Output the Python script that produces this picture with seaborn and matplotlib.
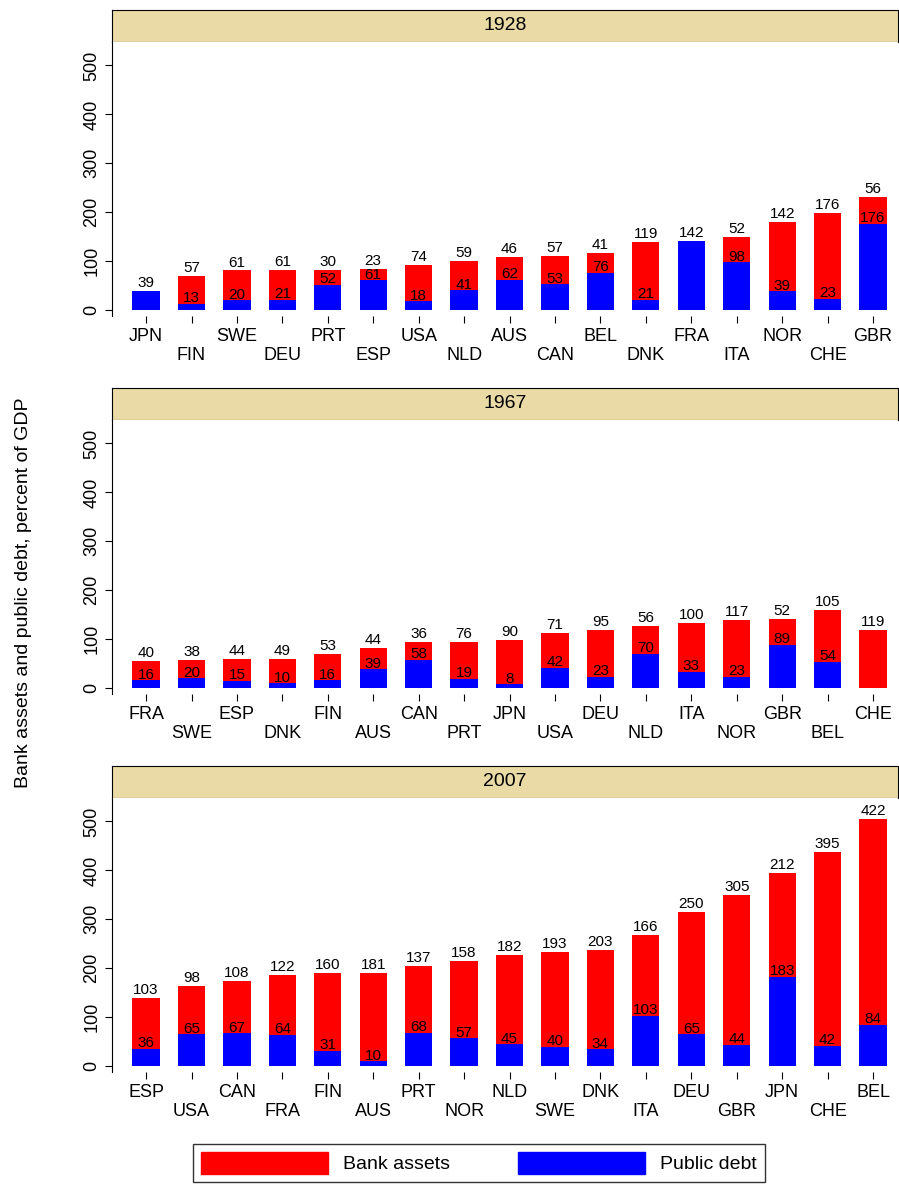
import numpy as np
import pandas as pd
import seaborn as sns
import matplotlib.pyplot as plt
from matplotlib.patches import Patch

years = ['1928', '1967', '2007']

countries_1928 = ['JPN', 'FIN', 'SWE', 'DEU', 'PRT', 'ESP', 'USA', 'NLD', 'AUS', 'CAN', 'BEL', 'DNK', 'FRA', 'ITA', 'NOR', 'CHE', 'GBR']
bank_1928 = [0, 57, 61, 61, 30, 23, 74, 59, 46, 57, 41, 119, 0, 52, 142, 176, 56]
debt_1928 = [39, 13, 20, 21, 52, 61, 18, 41, 62, 53, 76, 21, 142, 98, 39, 23, 176]

countries_1967 = ['FRA', 'SWE', 'ESP', 'DNK', 'FIN', 'AUS', 'CAN', 'PRT', 'JPN', 'USA', 'DEU', 'NLD', 'ITA', 'NOR', 'GBR', 'BEL', 'CHE']
bank_1967 = [40, 38, 44, 49, 53, 44, 36, 76, 90, 71, 95, 56, 100, 117, 52, 105, 119]
debt_1967 = [16, 20, 15, 10, 16, 39, 58, 19, 8, 42, 23, 70, 33, 23, 89, 54, 0]

countries_2007 = ['ESP', 'USA', 'CAN', 'FRA', 'FIN', 'AUS', 'PRT', 'NOR', 'NLD', 'SWE', 'DNK', 'ITA', 'DEU', 'GBR', 'JPN', 'CHE', 'BEL']
bank_2007 = [103, 98, 108, 122, 160, 181, 137, 158, 182, 193, 203, 166, 250, 305, 212, 395, 422]
debt_2007 = [36, 65, 67, 64, 31, 10, 68, 57, 45, 40, 34, 103, 65, 44, 183, 42, 84]

panels = [(countries_1928, bank_1928, debt_1928),
          (countries_1967, bank_1967, debt_1967),
          (countries_2007, bank_2007, debt_2007)]

sns.set_style('white')
plt.rcParams['font.family'] = ['Liberation Sans', 'DejaVu Sans']
plt.rcParams['text.color'] = 'black'
plt.rcParams['xtick.color'] = 'black'
plt.rcParams['ytick.color'] = 'black'
plt.rcParams['axes.labelcolor'] = 'black'

W, H = 899, 1186
fig = plt.figure(figsize=(W / 100, H / 100), dpi=100)
tops = [10, 388, 766]

for (names, bank, debt), year, top in zip(panels, years, tops):
    hdr = fig.add_axes([112 / W, 1 - (top + 32) / H, 786 / W, 32 / H])
    hdr.set_facecolor('#EADBA6')
    hdr.set_xticks([]); hdr.set_yticks([])
    for s in hdr.spines.values():
        s.set_color('black'); s.set_linewidth(0.8)
    hdr.text(0.5, 0.5, year, ha='center', va='center', fontsize=14, transform=hdr.transAxes)

    ax = fig.add_axes([112 / W, 1 - (top + 32 + 274) / H, 786 / W, 274 / H])
    df = pd.DataFrame({'country': names, 'bank': bank, 'debt': debt})
    df['total'] = df['bank'] + df['debt']
    sns.barplot(data=df, x='country', y='total', color='#FF0000', width=0.6,
                saturation=1, ax=ax, order=names, edgecolor='none', linewidth=0)
    sns.barplot(data=df, x='country', y='debt', color='#0000FF', width=0.6,
                saturation=1, ax=ax, order=names, edgecolor='none', linewidth=0)
    for i, r in df.iterrows():
        if r['bank'] > 0:
            ax.text(i, r['total'] + 2, str(r['bank']), ha='center', va='bottom', fontsize=11)
            if r['debt'] > 0:
                ax.text(i, r['debt'] - 3, str(r['debt']), ha='center', va='bottom', fontsize=11)
        else:
            ax.text(i, r['debt'] + 2, str(r['debt']), ha='center', va='bottom', fontsize=11)
    ax.set_xlim(-0.75, len(names) - 0.45)
    ax.set_ylim(-12, 548)
    ax.set_yticks([0, 100, 200, 300, 400, 500])
    ax.set_yticklabels(['0', '100', '200', '300', '400', '500'], rotation=90, va='center', fontsize=13)
    ax.set_xticks(range(len(names)))
    ax.set_xticklabels([n if i % 2 == 0 else '\n' + n for i, n in enumerate(names)], fontsize=13)
    ax.tick_params(axis='both', length=5, color='black', direction='out', bottom=True, left=True)
    ax.set_xlabel('')
    ax.set_ylabel('')
    ax.spines['top'].set_visible(False)
    ax.spines['right'].set_visible(False)
    ax.spines['bottom'].set_visible(False)
    ax.spines['left'].set_color('black')

fig.text(24 / W, 0.5, 'Bank assets and public debt, percent of GDP', rotation=90,
         ha='center', va='center', fontsize=14)

handles = [Patch(color='#FF0000', label='Bank assets'), Patch(color='#0000FF', label='Public debt')]
leg = fig.legend(handles=handles, loc='center', bbox_to_anchor=(479 / W, 1 - 1163 / H), ncol=2,
                 fontsize=14, frameon=True, fancybox=False, edgecolor='black',
                 handlelength=6.5, handleheight=1.4, columnspacing=3.5)
fig.savefig('out.png', dpi=100)
